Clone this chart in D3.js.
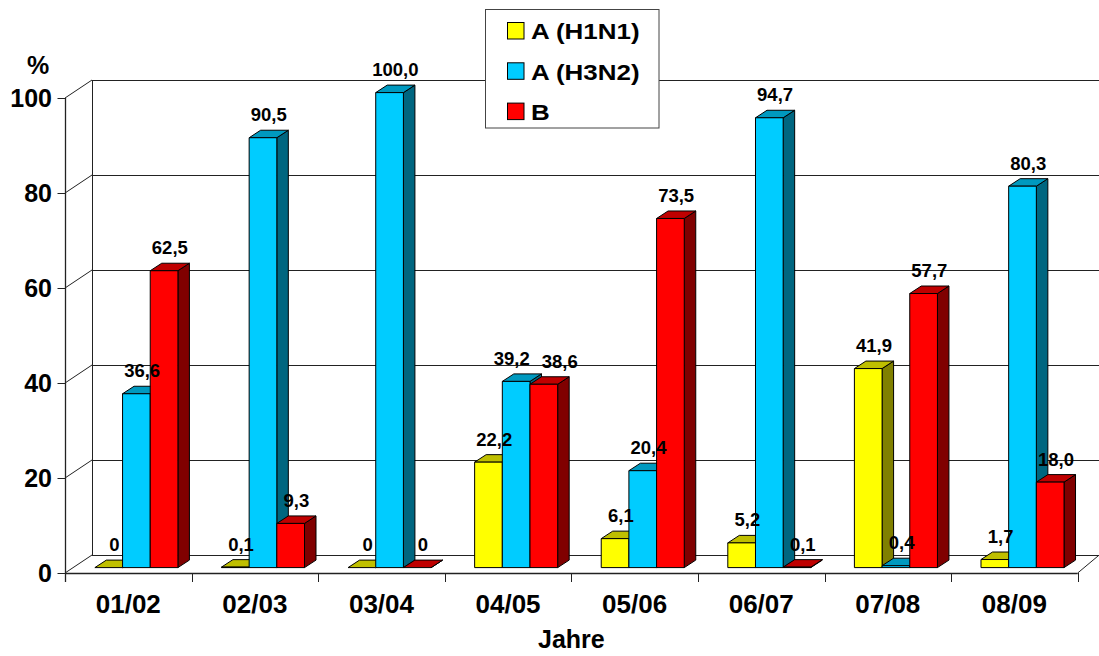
<!DOCTYPE html>
<html>
<head>
<meta charset="utf-8">
<script src="https://cdn.jsdelivr.net/npm/d3@7"></script>
<style>
  html, body { margin: 0; padding: 0; background: #fff; }
  svg { display: block; font-family: "Liberation Sans", Arial, sans-serif; font-weight: bold; }
</style>
</head>
<body>
<svg id="chart" width="1099" height="656"></svg>
<script>
// Influenza subtypes per season (share in %)
const categories = ["01/02", "02/03", "03/04", "04/05", "05/06", "06/07", "07/08", "08/09"];
const seriesNames = ["A (H1N1)", "A (H3N2)", "B"];
const valuesH1N1 = [0, 0.1, 0, 22.2, 6.1, 5.2, 41.9, 1.7];
const valuesH3N2 = [36.6, 90.5, 100.0, 39.2, 20.4, 94.7, 0.4, 80.3];
const valuesB = [62.5, 9.3, 0, 38.6, 73.5, 0.1, 57.7, 18.0];
const yTicks = [0, 20, 40, 60, 80, 100];
const xTitle = "Jahre";
const yUnit = "%";

const seriesValues = [valuesH1N1, valuesH3N2, valuesB];

// face colours: front, top, side
const palette = [
  { front: "#ffff00", top: "#bfbf00", side: "#808000" },
  { front: "#00ccff", top: "#0099bf", side: "#006680" },
  { front: "#ff0000", top: "#bf0000", side: "#800000" }
];

const W = 1099, H = 656;
const svg = d3.select("#chart");

// front plane of the floor and value axis
const X0 = 65, X1 = 1077.7, Y0 = 573, Y100 = 98;
// projection offsets: walls (full depth) and bars
const wall = { dx: 27, dy: 18 };
const barFront = { dx: 8.1, dy: 5.4 };
const barDepth = { dx: 11.5, dy: 7.5 };
const rightFloorDx = 21.5;

const x = d3.scaleBand().domain(categories).range([X0, X1]);
const y = d3.scaleLinear().domain([0, 100]).range([Y0, Y100]);
const bw = x.bandwidth();
const groupW = bw * 0.656;
const s = d3.scaleBand().domain(seriesNames).range([0, groupW]);
const groupStart = (bw - groupW) / 2 + barFront.dx;

const lineColor = "#222";

// ---- walls ----
const backX0 = X0 + wall.dx;
svg.append("rect")
  .attr("x", backX0).attr("y", y(100) - wall.dy)
  .attr("width", W - backX0).attr("height", y(0) - y(100))
  .attr("fill", "#fff");

// back wall gridlines
svg.append("g").selectAll("line").data(yTicks).join("line")
  .attr("x1", backX0).attr("x2", W)
  .attr("y1", d => Math.round(y(d) - wall.dy) + 0.5)
  .attr("y2", d => Math.round(y(d) - wall.dy) + 0.5)
  .attr("stroke", lineColor).attr("stroke-width", 1);

// side wall gridlines
svg.append("g").selectAll("line").data(yTicks).join("line")
  .attr("x1", X0).attr("y1", d => y(d))
  .attr("x2", backX0).attr("y2", d => y(d) - wall.dy)
  .attr("stroke", lineColor).attr("stroke-width", 1);

// back corner edge
svg.append("line")
  .attr("x1", Math.round(backX0) + 0.5).attr("x2", Math.round(backX0) + 0.5)
  .attr("y1", y(0) - wall.dy).attr("y2", y(100) - wall.dy)
  .attr("stroke", lineColor);

// floor front edge and right edge
svg.append("line")
  .attr("x1", X0).attr("x2", X1)
  .attr("y1", Math.round(Y0) + 0.5).attr("y2", Math.round(Y0) + 0.5)
  .attr("stroke", lineColor).attr("stroke-width", 1.3);
svg.append("line")
  .attr("x1", X1).attr("y1", Y0)
  .attr("x2", X1 + rightFloorDx).attr("y2", Y0 - wall.dy)
  .attr("stroke", lineColor);

// value axis line
svg.append("line")
  .attr("x1", Math.round(X0) + 0.5).attr("x2", Math.round(X0) + 0.5)
  .attr("y1", y(100)).attr("y2", Y0 + 9)
  .attr("stroke", lineColor).attr("stroke-width", 1.3);

// value axis ticks and labels
const yAxisG = svg.append("g");
yAxisG.selectAll("line").data(yTicks).join("line")
  .attr("x1", X0 - 7.5).attr("x2", X0)
  .attr("y1", d => Math.round(y(d)) + 0.5).attr("y2", d => Math.round(y(d)) + 0.5)
  .attr("stroke", lineColor);
yAxisG.selectAll("text").data(yTicks).join("text")
  .attr("x", X0 - 13).attr("y", d => y(d) + 9)
  .attr("text-anchor", "end")
  .attr("font-size", 25)
  .text(d => d);

svg.append("text")
  .attr("x", 38).attr("y", 74)
  .attr("text-anchor", "middle")
  .attr("font-size", 25)
  .text(yUnit);

// category ticks
const tickXs = categories.map(c => x(c)).concat([X1]);
svg.append("g").selectAll("line").data(tickXs).join("line")
  .attr("x1", d => Math.round(d) + 0.5).attr("x2", d => Math.round(d) + 0.5)
  .attr("y1", Y0).attr("y2", Y0 + 9)
  .attr("stroke", lineColor);

// category labels
svg.append("g").selectAll("text").data(categories).join("text")
  .attr("x", d => x(d) + bw / 2).attr("y", 612.7)
  .attr("text-anchor", "middle")
  .attr("font-size", 26)
  .text(d => d);

svg.append("text")
  .attr("x", (X0 + X1) / 2).attr("y", 648)
  .attr("text-anchor", "middle")
  .attr("font-size", 25)
  .text(xTitle);

// ---- bars ----
const bars = [];
categories.forEach((c, ci) => {
  seriesNames.forEach((name, si) => {
    const v = seriesValues[si][ci];
    const x0 = x(c) + groupStart + s(name);
    bars.push({
      v, si, ci,
      x0, w: s.bandwidth(),
      yTop: y(v) - barFront.dy,
      yBot: y(0) - barFront.dy
    });
  });
});

const barG = svg.append("g");
bars.forEach(b => {
  const g = barG.append("g")
    .attr("stroke", "#000").attr("stroke-width", 1).attr("stroke-linejoin", "round");
  const { x0, w, yTop, yBot } = b;
  const dx = barDepth.dx, dy = barDepth.dy;
  const col = palette[b.si];
  g.append("polygon")
    .attr("points", [[x0 + w, yTop], [x0 + w + dx, yTop - dy], [x0 + w + dx, yBot - dy], [x0 + w, yBot]].join(" "))
    .attr("fill", col.side);
  g.append("polygon")
    .attr("points", [[x0, yTop], [x0 + dx, yTop - dy], [x0 + w + dx, yTop - dy], [x0 + w, yTop]].join(" "))
    .attr("fill", col.top);
  g.append("rect")
    .attr("x", x0).attr("y", yTop)
    .attr("width", w).attr("height", Math.max(0, yBot - yTop))
    .attr("fill", col.front);
});

// value labels, centred over the top face
const fmt = v => v === 0 ? "0" : d3.format(".1f")(v).replace(".", ",");
bars.forEach(b => {
  b.lx = b.x0 + b.w / 2 + barDepth.dx / 2;
  b.ly = b.yTop - barDepth.dy - 9;
});
const labels = svg.append("g").selectAll("text").data(bars).join("text")
  .attr("text-anchor", "middle")
  .attr("font-size", 18.5)
  .text(d => fmt(d.v));
labels.each(function (d) { d.tw = this.getComputedTextLength(); });

// spread neighbouring labels of a group that would collide
const gap = 12;
categories.forEach((c, ci) => {
  const grp = bars.filter(b => b.ci === ci);
  for (let i = 0; i < grp.length - 1; i++) {
    const a = grp[i], b = grp[i + 1];
    if (Math.abs(a.ly - b.ly) < 20) {
      const need = (a.tw + b.tw) / 2 + gap - (b.lx - a.lx);
      if (need > 0) { a.lx -= need / 2; b.lx += need / 2; }
    }
  }
});
labels.attr("x", d => d.lx).attr("y", d => d.ly);

// ---- legend ----
const lg = svg.append("g");
lg.append("rect")
  .attr("x", 485.5).attr("y", 9.5).attr("width", 173.5).attr("height", 118.5)
  .attr("fill", "#fff").attr("stroke", "#444").attr("stroke-width", 1);
const items = lg.selectAll("g").data(seriesNames).join("g")
  .attr("transform", (d, i) => `translate(0, ${i * 40.3})`);
items.append("rect")
  .attr("x", 507.5).attr("y", 22.5).attr("width", 16.5).attr("height", 16.5)
  .attr("fill", (d, i) => palette[i].front).attr("stroke", "#000");
items.append("text")
  .attr("transform", "translate(531, 39.3) scale(1.18, 1)")
  .attr("font-size", 22)
  .text(d => d);
</script>
</body>
</html>
